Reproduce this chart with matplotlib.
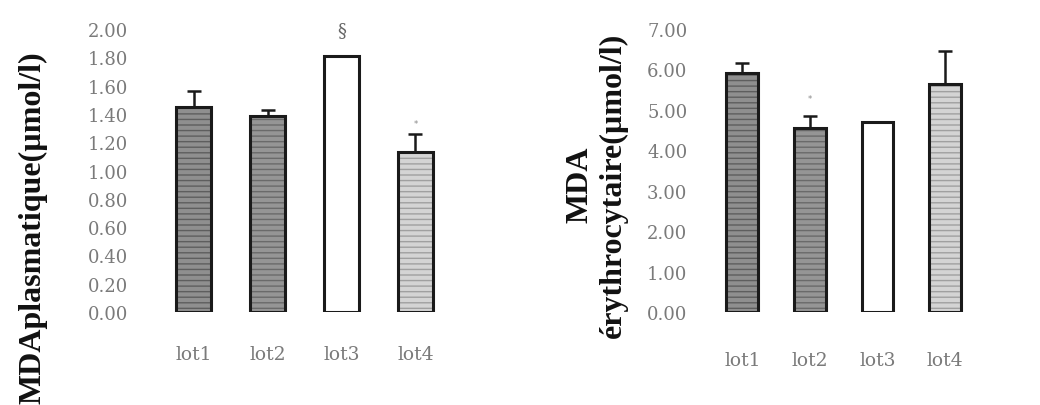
import numpy as np
import matplotlib
matplotlib.use('Agg')
import matplotlib.pyplot as plt

# MDA plasmatique / erythrocytaire, means with upper SEM bars
lots = ['lot1', 'lot2', 'lot3', 'lot4']
mda_plasma = [1.45, 1.385, 1.81, 1.13]
mda_plasma_err = [0.11, 0.045, 0.0, 0.13]
mda_ery = [5.91, 4.55, 4.70, 5.64]
mda_ery_err = [0.25, 0.30, 0.0, 0.82]

plasma_ticks = [0.0, 0.2, 0.4, 0.6, 0.8, 1.0, 1.2, 1.4, 1.6, 1.8, 2.0]
ery_ticks = [0, 1, 2, 3, 4, 5, 6, 7]

face = ['#8f8f8f', '#959595', '#ffffff', '#d4d4d4']
stripe = ['#5e5e5e', '#6a6a6a', None, '#a0a0a0']

tick_font = dict(family='DejaVu Serif', size=13, color='#7a7a7a')
label_font = dict(family='Liberation Serif', weight='bold', size=23, color='#111111')

fig = plt.figure(figsize=(10.4, 4.06), dpi=100)


def draw_panel(ax, vals, errs, ticks, xlo, xpad):
    x = np.arange(len(vals))
    for i in x:
        ax.bar(i, vals[i], width=0.47, color=face[i], edgecolor='none', zorder=1)
        if stripe[i]:
            ax.bar(i, vals[i], width=0.47, color='none', edgecolor=stripe[i],
                   hatch='---', linewidth=0, zorder=2)
        ax.bar(i, vals[i], width=0.47, color='none', edgecolor='#1a1a1a',
               linewidth=2.2, zorder=3)
        if errs[i] > 0:
            ax.errorbar(i, vals[i], yerr=[[0], [errs[i]]], fmt='none',
                        ecolor='#1a1a1a', elinewidth=1.8, capsize=5,
                        capthick=1.8, zorder=4)
    ax.set_xlim(xlo, 3.5)
    ax.set_ylim(ticks[0], ticks[-1])
    ax.set_yticks(ticks)
    ax.set_yticklabels(['%.2f' % t for t in ticks], fontdict=tick_font)
    ax.set_xticks(x)
    ax.set_xticklabels(lots, fontdict=dict(tick_font, size=13.5))
    ax.tick_params(axis='both', length=0)
    ax.tick_params(axis='y', pad=6)
    ax.tick_params(axis='x', pad=xpad)
    for s in ax.spines.values():
        s.set_visible(False)


ax1 = fig.add_axes([0.131, 0.229, 0.304, 0.697])
draw_panel(ax1, mda_plasma, mda_plasma_err, plasma_ticks, -0.78, 24)
ax1.text(2, 1.99, '§', ha='center', va='center', fontsize=13, color='#666666',
         family='DejaVu Serif')
ax1.text(3, 1.33, '*', ha='center', va='center', fontsize=6, color='#888888')

ax2 = fig.add_axes([0.669, 0.229, 0.272, 0.697])
draw_panel(ax2, mda_ery, mda_ery_err, ery_ticks, -0.69, 28)
ax2.text(1, 5.28, '*', ha='center', va='center', fontsize=6, color='#888888')

fig.text(33 / 1040, 1 - 228 / 406, 'MDAplasmatique(µmol/l)', rotation=90,
         ha='center', va='center', **label_font)
fig.text(580 / 1040, 1 - 185 / 406, 'MDA', rotation=90,
         ha='center', va='center', **label_font)
fig.text(613 / 1040, 1 - 185 / 406, 'érythrocytaire(µmol/l)', rotation=90,
         ha='center', va='center', **label_font)

fig.savefig('out.png', dpi=100)
